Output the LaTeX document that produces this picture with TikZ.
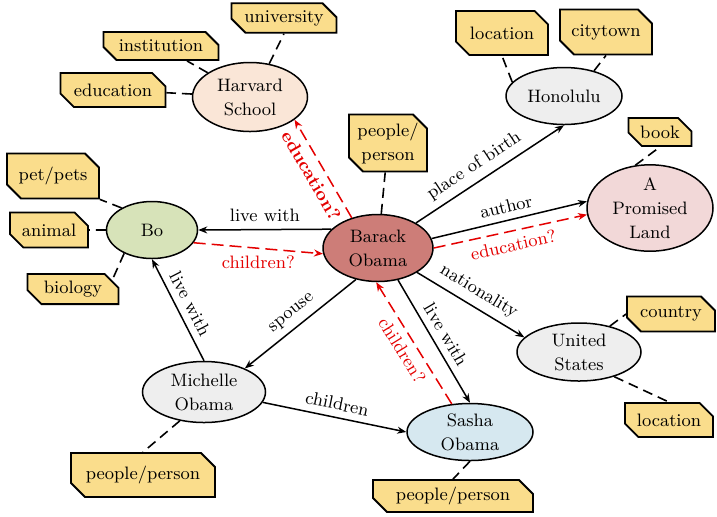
\documentclass[tikz,border=0pt]{standalone}
\usepackage{amsmath,amssymb}
\usepackage{tikz}
\usetikzlibrary{positioning, arrows.meta, shapes.geometric, shapes.misc}
\definecolor{tagY}{RGB}{250,221,140}
\definecolor{obamaR}{RGB}{205,125,120}
\definecolor{harvP}{RGB}{250,230,215}
\definecolor{boG}{RGB}{215,227,185}
\definecolor{grayE}{RGB}{238,238,238}
\definecolor{bookP}{RGB}{242,216,216}
\definecolor{sashaB}{RGB}{214,232,240}
\definecolor{predR}{RGB}{228,0,0}

\begin{document}
\begin{tikzpicture}
[->/.style={line width=0.75pt,arrows={-Stealth[length=4.5pt,width=3.5pt]}},
-->/.style={line width=0.75pt, predR, dash pattern=on 6pt off 3pt, arrows={-Stealth[length=4.5pt,width=3.5pt]}},
   entE/.style={shape=ellipse, draw, line width=0.75pt, inner sep=0pt, align=center},
   typeT/.style={shape=chamfered rectangle, chamfered rectangle corners={north east, south west},
     chamfered rectangle xsep=3.5pt, chamfered rectangle ysep=3.5pt, draw, line width=0.9pt, fill=tagY,
     inner sep=0pt, align=center},
   typeL/.style={line width=0.8pt, dash pattern=on 5pt off 3pt},
   x=0.5pt, y=-0.5pt]
\useasboundingbox (0, 0) rectangle (717, 516);
\node[entE, fill=obamaR, minimum width=55pt, minimum height=33.5pt] (BO) at (378, 248) {\small Barack \\ \small Obama};
\node[entE, fill=harvP, minimum width=57.5pt, minimum height=34.5pt] (HS) at (250, 97) {\small Harvard \\ \small School};
\node[entE, fill=boG, minimum width=45.5pt, minimum height=28.5pt] (B) at (152, 230) {\small Bo};
\node[entE, fill=grayE, minimum width=58pt, minimum height=28.5pt] (H) at (564, 96) {\small Honolulu};
\node[entE, fill=bookP, minimum width=63pt, minimum height=40pt] (APL) at (650, 208) {\small A \\ \small Promised \\ \small Land};
\node[entE, fill=grayE, minimum width=62pt, minimum height=29pt] (US) at (579, 352) {\small United \\ \small States};
\node[entE, fill=grayE, minimum width=61.5pt, minimum height=30.5pt] (MO) at (204, 392) {\small Michelle \\ \small Obama};
\node[entE, fill=sashaB, minimum width=63pt, minimum height=28.5pt] (SO) at (470, 432) {\small Sasha \\ \small Obama};
\node[typeT, minimum width=52.5pt, minimum height=14pt] (univT) at (284, 18) {\small university};
\node[typeT, minimum width=57.5pt, minimum height=14pt] (instT) at (161, 46) {\small institution};
\node[typeT, minimum width=52.5pt, minimum height=17pt] (eduT) at (113, 90) {\small education};
\node[typeT, minimum width=46pt, minimum height=22.5pt] (petT) at (53, 176) {\small pet/pets};
\node[typeT, minimum width=39pt, minimum height=17.5pt] (animT) at (49, 230) {\small animal};
\node[typeT, minimum width=45.5pt, minimum height=14pt] (bioT) at (73, 289) {\small biology};
\node[typeT, minimum width=39pt, minimum height=28.5pt] (persT) at (388, 143) {\small people/ \\ \small person};
\node[typeT, minimum width=46pt, minimum height=22pt] (locT) at (502, 33) {\small location};
\node[typeT, minimum width=46pt, minimum height=22.5pt] (cityT) at (606, 32) {\small citytown};
\node[typeT, minimum width=31.5pt, minimum height=14pt] (bookT) at (660, 132) {\small book};
\node[typeT, minimum width=44pt, minimum height=17.5pt] (ctryT) at (671, 314) {\small country};
\node[typeT, minimum width=44pt, minimum height=17pt] (locT2) at (669, 420) {\small location};
\node[typeT, minimum width=72pt, minimum height=22pt] (persT2) at (143, 475) {\small people/person};
\node[typeT, minimum width=80pt, minimum height=14pt] (persT3) at (453, 496) {\small people/person};
\draw [->] (BO.158) -- (B.east) node [pos=0.5, above] {\small live with};
\draw [-->] (B.-17) -- (BO.186) node [pos=0.5, below, predR] {\small children?};
\draw [-->] (BO.131) -- (HS.-27) node [pos=0.5, below, sloped, predR] {\small\bfseries education?};
\draw [->] (BO) -- (H.south) node [pos=0.45, above, sloped] {\small place of birth};
\draw [->] (BO.10) -- (APL.174) node [pos=0.5, above, sloped] {\small author};
\draw [-->] (BO.east) -- (APL.186) node [pos=0.5, below, sloped, predR] {\small education?};
\draw [->] (BO.-32) -- (US.165) node [pos=0.5, above, sloped] {\small nationality};
\draw [->] (BO.-58) -- (SO.north) node [pos=0.5, above, sloped] {\small live with};
\draw [-->] (SO.123) -- (BO.-93) node [pos=0.5, below, sloped, predR] {\small children?};
\draw [->] (BO.-125) -- (MO.30) node [pos=0.5, above, sloped] {\small spouse};
\draw [->] (MO.north) -- (B.south) node [pos=0.5, above, sloped] {\small live with};
\draw [->] (MO.-10) -- (SO.west) node [pos=0.5, above, sloped] {\small children};
\draw [typeL] (HS.60) -- (univT.south);
\draw [typeL] (HS) -- (instT);
\draw [typeL] (HS) -- (eduT);
\draw [typeL] (B.144) -- (petT.south east);
\draw [typeL] (B) -- (animT);
\draw [typeL] (B.-140) -- (bioT.north east);
\draw [typeL] (BO) -- (persT);
\draw [typeL] (H.165) -- (locT.south);
\draw [typeL] (H.40) -- (cityT.south);
\draw [typeL] (APL.109) -- (bookT.south);
\draw [typeL] (US.40) -- (ctryT.west);
\draw [typeL] (US.-35) -- (locT2.north);
\draw [typeL] (MO.-130) -- (persT2.north);
\draw [typeL] (SO.south) -- (persT3.north);
\end{tikzpicture}
\end{document}
